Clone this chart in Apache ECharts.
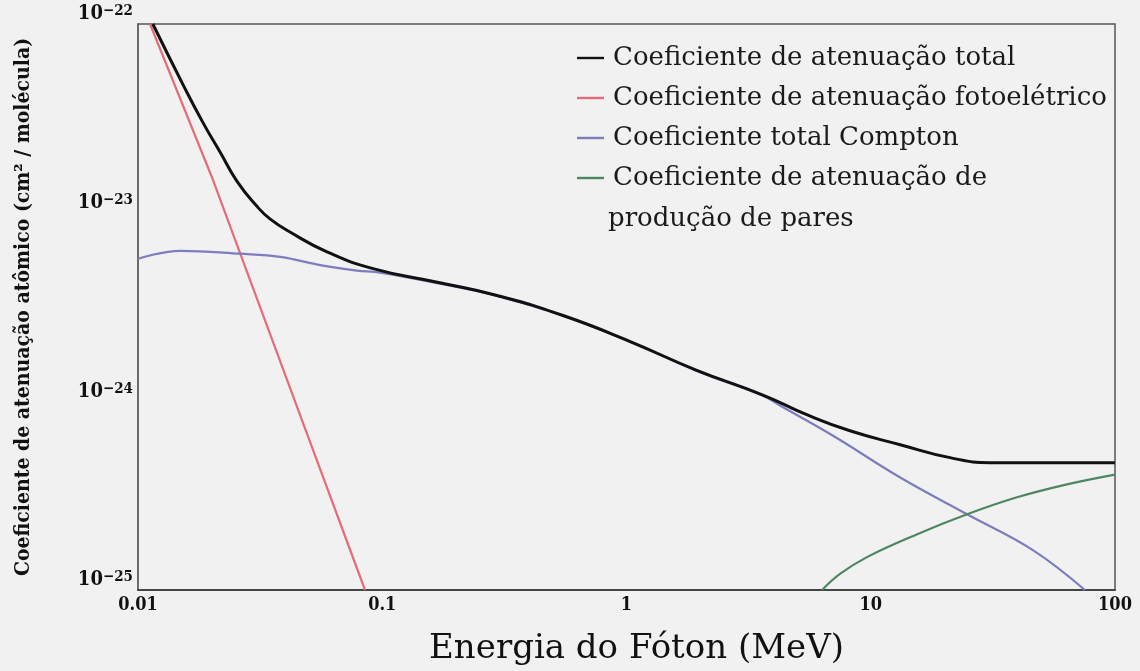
<!DOCTYPE html>
<html><head><meta charset="utf-8">
<script src="https://cdn.jsdelivr.net/npm/echarts@6/dist/echarts.min.js"></script>
<style>html,body{margin:0;padding:0;background:#f1f1f1}#c{width:1140px;height:671px}</style>
</head><body><div id="c"></div>
<script>
// y values are in cm^2/molecule; plotted in units of 1e-25 so the log axis stays well-conditioned
const Y_UNIT = 1e-25;
const xTickLabels = ['0.01', '0.1', '1', '10', '100'];
const yTickExponents = ['\u221225', '\u221224', '\u221223', '\u221222'];
const seriesNames = [
  'Coeficiente de atenuação total',
  'Coeficiente de atenuação fotoelétrico',
  'Coeficiente total Compton',
  'Coeficiente de atenuação de\nprodução de pares'
];

const totalE  = [0.0115, 0.0153, 0.01845, 0.0217, 0.0254, 0.0307, 0.0347, 0.0419, 0.0594, 0.0917, 0.172, 0.295, 0.55, 1.03, 1.94, 3.62, 5.5, 8.22, 13.2, 21.1, 30.8, 100];
const totalMu = [1.0e-22, 4.76e-23, 3.0e-23, 2.09e-23, 1.47e-23, 1.08e-23, 9.27e-24, 7.9e-24, 6.2e-24, 5.05e-24, 4.25e-24, 3.64e-24, 2.85e-24, 2.08e-24, 1.46e-24, 1.08e-24, 8.47e-25, 6.98e-25, 5.89e-25, 5.03e-25, 4.73e-25, 4.73e-25];

const photoE  = [0.0112, 0.02, 0.03, 0.05, 0.085];
const photoMu = [1.0e-22, 1.56e-23, 3.79e-24, 6.37e-25, 1.0e-25];

const comptonE  = [0.01, 0.0149, 0.0262, 0.0382, 0.0572, 0.0788, 0.098, 0.172, 0.295, 0.55, 1.03, 1.94, 3.62, 4.25, 7.01, 13.2, 24.8, 46.1, 75.3];
const comptonMu = [5.7e-24, 6.28e-24, 6.06e-24, 5.83e-24, 5.24e-24, 4.93e-24, 4.81e-24, 4.2e-24, 3.62e-24, 2.84e-24, 2.07e-24, 1.45e-24, 1.07e-24, 9.5e-25, 6.57e-25, 3.95e-25, 2.52e-25, 1.627e-25, 1.0e-25];

const pairE  = [6.32, 7.48, 9.65, 15.5, 24.8, 39.7, 63.6, 100];
const pairMu = [1.0e-25, 1.216e-25, 1.494e-25, 1.976e-25, 2.52e-25, 3.10e-25, 3.63e-25, 4.09e-25];

const toPairs = (xs, ys) => xs.map((x, i) => [x, ys[i] / Y_UNIT]);

const chart = echarts.init(document.getElementById('c'));
const legendFont = 'DejaVu Serif';
const condBold = 'DejaVu Serif Condensed, DejaVu Serif';
chart.setOption({
  backgroundColor: '#f1f1f1',
  animation: false,
  grid: { left: 138, right: 25, top: 24, bottom: 78, show: true, borderColor: '#555', borderWidth: 1.5, backgroundColor: 'transparent' },
  legend: {
    orient: 'vertical', left: 572, top: 33, itemWidth: 27, itemHeight: 14, itemGap: 0,
    icon: 'path://M0,0H27V2.4H0Z',
    data: [seriesNames[0], seriesNames[1], seriesNames[2], seriesNames[3]],
    formatter: n => n.split('\n')[0],
    textStyle: { fontFamily: legendFont, fontSize: 26, color: '#1a1a1a', lineHeight: 40, padding: [0, 0, 0, 4] }
  },
  graphic: [{
    type: 'text', left: 608, top: 206,
    style: { text: seriesNames[3].split('\n')[1], font: '26px "DejaVu Serif"', fill: '#1a1a1a' }
  }],
  xAxis: {
    type: 'log', logBase: 10, min: 0.01, max: 100,
    name: 'Energia do Fóton (MeV)', nameLocation: 'middle', nameGap: 42,
    nameTextStyle: { fontFamily: 'DejaVu Serif', fontSize: 34, color: '#111', padding: [0, 0, 0, 20] },
    axisLine: { show: true, lineStyle: { color: '#444', width: 2 } },
    axisTick: { show: false }, splitLine: { show: false }, minorTick: { show: false },
    axisLabel: {
      margin: 6, fontFamily: condBold, fontWeight: 'bold', fontSize: 18, color: '#111',
      formatter: v => xTickLabels[Math.round(Math.log10(v)) + 2]
    }
  },
  yAxis: {
    type: 'log', logBase: 10, min: 1, max: 1000,
    name: 'Coeficiente de atenuação atômico (cm² / molécula)', nameLocation: 'middle', nameGap: 104, nameRotate: 90,
    nameTextStyle: { fontFamily: condBold, fontWeight: 'bold', fontSize: 21, color: '#111' },
    axisLine: { show: true, lineStyle: { color: '#666', width: 1.5 } },
    axisTick: { show: false }, splitLine: { show: false }, minorTick: { show: false },
    axisLabel: {
      margin: 5, verticalAlign: 'bottom',
      formatter: v => '{b|10}{s|' + yTickExponents[Math.round(Math.log10(v))] + '}',
      rich: {
        b: { fontFamily: condBold, fontWeight: 'bold', fontSize: 20, color: '#111', lineHeight: 20 },
        s: { fontFamily: condBold, fontWeight: 'bold', fontSize: 15, color: '#111', verticalAlign: 'top', lineHeight: 20 }
      }
    }
  },
  series: [
    { name: seriesNames[1], type: 'line', data: toPairs(photoE, photoMu), showSymbol: false, symbol: 'none',
      lineStyle: { color: '#e66b78', width: 2.2 }, itemStyle: { color: '#e66b78' } },
    { name: seriesNames[2], type: 'line', data: toPairs(comptonE, comptonMu), showSymbol: false, symbol: 'none', smooth: 0.4,
      lineStyle: { color: '#7b7dbd', width: 2.2 }, itemStyle: { color: '#7b7dbd' } },
    { name: seriesNames[3], type: 'line', data: toPairs(pairE, pairMu), showSymbol: false, symbol: 'none', smooth: 0.4,
      lineStyle: { color: '#4d8660', width: 2.2 }, itemStyle: { color: '#4d8660' } },
    { name: seriesNames[0], type: 'line', data: toPairs(totalE, totalMu), showSymbol: false, symbol: 'none', smooth: 0.5,
      lineStyle: { color: '#111', width: 3 }, itemStyle: { color: '#111' } }
  ]
});
</script></body></html>
